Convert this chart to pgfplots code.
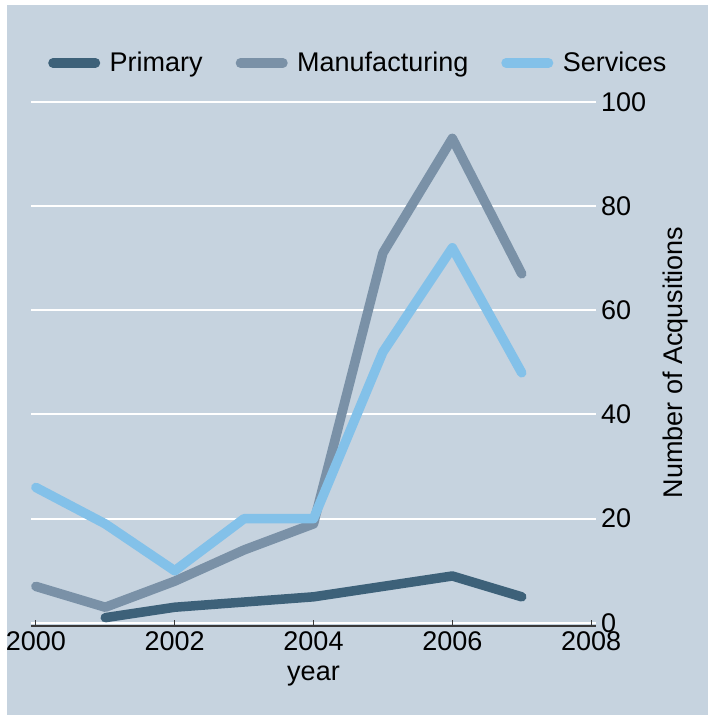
\documentclass[border=0pt]{standalone}
\usepackage{fontspec}
\setmainfont{Liberation Sans}
\usepackage{pgfplots}
\pgfplotsset{compat=1.18}
\definecolor{bgc}{HTML}{C6D3DF}
\definecolor{cprim}{HTML}{3D6179}
\definecolor{cmanu}{HTML}{7A91A7}
\definecolor{cserv}{HTML}{83C1E9}
\definecolor{axc}{HTML}{3A3A3A}
\newcommand{\bigf}{\fontsize{27}{32}\selectfont}
\begin{document}
\begin{tikzpicture}
\fill[white] (0,0) rectangle (709pt,715pt);
\fill[bgc] (7pt,0) rectangle (708pt,710pt);
\begin{axis}[
  at={(31pt,89pt)}, anchor=south west,
  scale only axis, width=565pt, height=526.7pt,
  xmin=1999.93, xmax=2008.07, ymin=-0.6, ymax=100.5,
  axis x line*=bottom, axis y line*=right,
  x axis line style={draw=axc, line width=1.5pt},
  y axis line style={draw=none},
  xtick={2000,2002,2004,2006,2008},
  ytick={0,20,40,60,80,100},
  xtick align=inside,
  xtick style={draw=axc, line width=0.8pt},
  major tick length=6pt,
  ytick style={draw=none},
  ymajorgrids, grid style={white, line width=2pt},
  /pgf/number format/1000 sep={},
  /pgf/number format/assume math mode=true,
  tick label style={font=\bigf},
  xticklabel style={inner sep=0pt, yshift=-5pt},
  yticklabel style={inner sep=0pt, xshift=5pt},
  xlabel={year}, ylabel={Number of Acqusitions},
  label style={font=\bigf},
  xlabel style={at={(axis description cs:0.5,-0.1044)}, anchor=base, inner sep=0pt},
  ylabel style={at={(axis description cs:1.140,0.5)}, anchor=center, rotate=0},
  legend columns=3,
  legend style={at={(axis description cs:0.0301,1.069)}, anchor=west, draw=none, fill=none, inner sep=0pt, font=\bigf,
    /tikz/every even column/.append style={column sep=31pt}},
  legend image code/.code={\path[draw=none, fill=none] (0pt,0pt) -- (59.5pt,0pt); \draw[#1, line width=9.5pt, line cap=round] (4.75pt,0pt) -- (47.25pt,0pt);},
  every axis plot/.append style={line width=9.5pt, line join=round, line cap=round, mark=none},
]
\addplot[cprim] coordinates {(2001,1) (2002,3) (2003,4) (2004,5) (2005,7) (2006,9) (2007,5)};
\addlegendentry{Primary}
\addplot[cmanu] coordinates {(2000,7) (2001,3) (2002,8) (2003,14) (2004,19) (2005,71) (2006,93) (2007,67)};
\addlegendentry{Manufacturing}
\addplot[cserv] coordinates {(2000,26) (2001,19) (2002,10) (2003,20) (2004,20) (2005,52) (2006,72) (2007,48)};
\addlegendentry{Services}
\end{axis}
\pgfresetboundingbox
\useasboundingbox (0,0) rectangle (709pt,715pt);
\end{tikzpicture}
\end{document}
